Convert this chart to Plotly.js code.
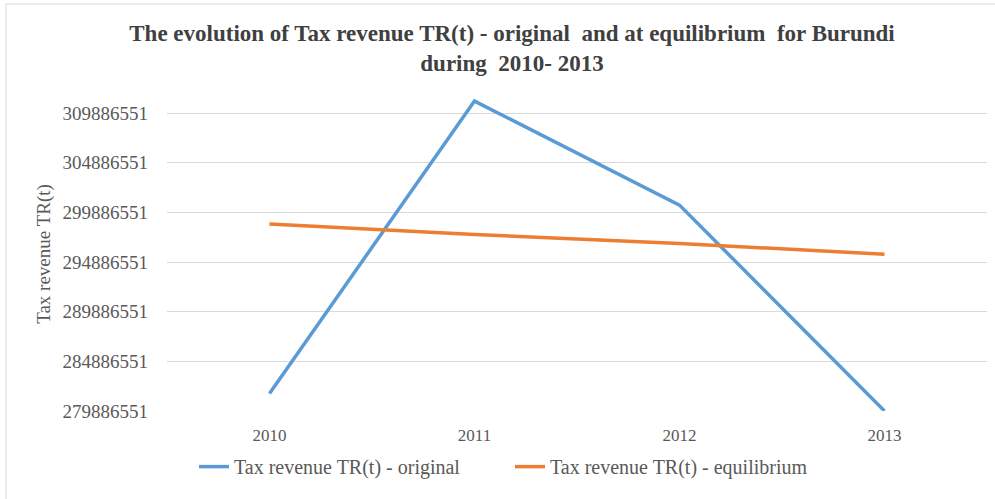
<!DOCTYPE html>
<html>
<head>
<meta charset="utf-8">
<script src="https://cdn.plot.ly/plotly-3.0.1.min.js"></script>
<style>html,body{margin:0;padding:0;background:#fff;}#chart{width:995px;height:499px;}</style>
</head>
<body>
<div id="chart"></div>
<script>
var years = ['2010', '2011', '2012', '2013'];
var original = [281640000, 311100000, 300620000, 279886551];
var equilibrium = [298710000, 297670000, 296760000, 295680000];
var tickVals = [279886551, 284886551, 289886551, 294886551, 299886551, 304886551, 309886551];
var tickText = ['279886551', '284886551', '289886551', '294886551', '299886551', '304886551', '309886551'];

var serif = '"Liberation Serif", "Times New Roman", serif';

var traces = [
  {x: years, y: original, type: 'scatter', mode: 'lines', name: 'Tax revenue TR(t) - original',
   line: {color: '#5b9bd5', width: 3.5}, cliponaxis: true},
  {x: years, y: equilibrium, type: 'scatter', mode: 'lines', name: 'Tax revenue TR(t) - equilibrium',
   line: {color: '#ed7d31', width: 3.5}, cliponaxis: true}
];

var layout = {
  width: 995, height: 499,
  margin: {l: 167, r: 8, t: 97, b: 88},
  paper_bgcolor: '#ffffff', plot_bgcolor: '#ffffff',
  font: {family: serif, color: '#595959', size: 16},
  title: {
    text: '<b>The evolution of Tax revenue TR(t) - original  and at equilibrium  for Burundi<br>during  2010- 2013</b>',
    font: {family: serif, size: 23, color: '#404040'},
    x: 512 / 995, xanchor: 'center', y: 1 - 41 / 499, yanchor: 'middle'
  },
  xaxis: {
    type: 'category', showgrid: false, zeroline: false, showline: false,
    ticks: '', ticklabelstandoff: 12, tickfont: {family: serif, size: 17, color: '#595959'},
    range: [-0.5, 3.5], fixedrange: true
  },
  yaxis: {
    range: [279886551, 311510000], tickvals: tickVals, ticktext: tickText,
    showgrid: true, gridcolor: '#d9d9d9', gridwidth: 1, zeroline: false, showline: false,
    ticks: '', ticklabelstandoff: 18, tickfont: {family: serif, size: 19, color: '#595959'},
    title: {text: 'Tax revenue TR(t)', font: {family: serif, size: 19, color: '#595959'}, standoff: 6},
    automargin: false
  },
  showlegend: true,
  legend: {
    orientation: 'h', x: (510 - 167) / 820, xanchor: 'center', y: -0.115, yanchor: 'top',
    font: {family: serif, size: 20, color: '#595959'}, traceorder: 'normal',
    itemwidth: 30, entrywidth: 271, entrywidthmode: 'pixels'
  },
  shapes: [{
    type: 'rect', xref: 'paper', yref: 'paper',
    x0: (6 - 167) / 820, x1: 1.2, y0: -0.6, y1: (411 - 4) / 314,
    line: {color: '#d9d9d9', width: 1}, fillcolor: 'rgba(0,0,0,0)', layer: 'below'
  }]
};

Plotly.newPlot('chart', traces, layout, {displayModeBar: false, staticPlot: true});
</script>
</body>
</html>
